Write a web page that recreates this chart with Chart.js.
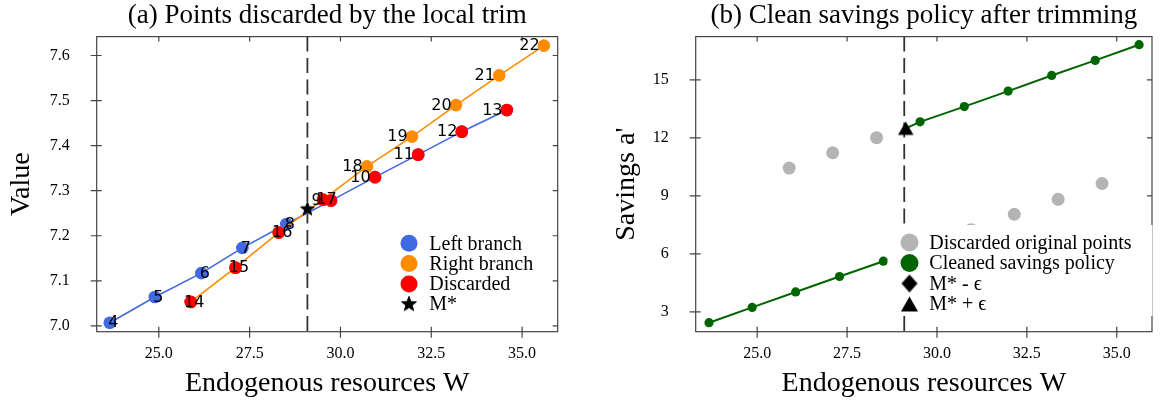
<!DOCTYPE html>
<html><head><meta charset="utf-8">
<script src="https://cdn.jsdelivr.net/npm/chart.js@4"></script>
<style>
html,body{margin:0;padding:0;background:#fff;}
#wrap{position:relative;width:1161px;height:410px;overflow:hidden;}
canvas{position:absolute;top:0;}
</style></head>
<body><div id="wrap">
<canvas id="c1" width="580" height="410" style="left:0"></canvas>
<canvas id="c2" width="581" height="410" style="left:580px"></canvas>
</div>
<script>
// ---------- data ----------
const xTicks = [25.0, 27.5, 30.0, 32.5, 35.0];
const yTicksA = [7.0, 7.1, 7.2, 7.3, 7.4, 7.5, 7.6];
const yTicksB = [3, 6, 9, 12, 15];

// panel (a)
const leftIdx = [4, 5, 6, 7, 8, 9, 10, 11, 12, 13];
const leftW   = [23.65, 24.89, 26.17, 27.30, 28.51, 29.74, 30.95, 32.14, 33.34, 34.58];
const leftV   = [7.007, 7.064, 7.117, 7.173, 7.226, 7.278, 7.330, 7.380, 7.431, 7.479];
const rightIdx = [14, 15, 16, 17, 18, 19, 20, 21, 22];
const rightW   = [25.88, 27.11, 28.30, 29.52, 30.73, 31.97, 33.18, 34.37, 35.60];
const rightV   = [7.053, 7.129, 7.207, 7.280, 7.354, 7.420, 7.490, 7.556, 7.622];
const discardedIdx = [9, 10, 11, 12, 13, 14, 15, 16, 17];
const mStarW = 29.09, mStarV = 7.259;

// panel (b)
const cleanLeftW  = [23.66, 24.86, 26.07, 27.29, 28.51];
const cleanLeftA  = [2.44, 3.23, 4.03, 4.83, 5.62];
const cleanRightW = [29.53, 30.76, 31.98, 33.19, 34.40, 35.62];
const cleanRightA = [12.83, 13.62, 14.42, 15.23, 16.01, 16.82];
const discOrigW = [25.89, 27.10, 28.32, 29.74, 30.95, 32.15, 33.37, 34.59];
const discOrigA = [10.44, 11.23, 12.01, 6.50, 7.25, 8.05, 8.82, 9.64];
const mMinusW = 29.05, mMinusA = 5.95;
const mPlusW = 29.13, mPlusA = 12.49;

const titleA = '(a) Points discarded by the local trim';
const titleB = '(b) Clean savings policy after trimming';
const xTitle = 'Endogenous resources W';
const yTitleA = 'Value';
const yTitleB = "Savings a'";

// ---------- styles ----------
const BLUE = '#4169e1', ORANGE = '#ff8c00', RED = '#ff0000', GREEN = '#006400', GRAY = '#b4b4b4';
const SERIF = '"Liberation Serif", "DejaVu Serif", serif';
const AXC = '#444';

function pts(xs, ys) { return xs.map((x, i) => ({x: x, y: ys[i]})); }

function starCanvas(R, color) {
  const s = Math.ceil(2 * R + 4), c = document.createElement('canvas');
  c.width = s; c.height = s;
  const g = c.getContext('2d');
  const cx = s / 2, cy = s / 2, r = R * 0.42;
  g.beginPath();
  for (let k = 0; k < 10; k++) {
    const ang = -Math.PI / 2 + k * Math.PI / 5, rr = k % 2 ? r : R;
    const px = cx + rr * Math.cos(ang), py = cy + rr * Math.sin(ang);
    k ? g.lineTo(px, py) : g.moveTo(px, py);
  }
  g.closePath(); g.fillStyle = color; g.fill();
  g.lineJoin = 'miter'; g.lineWidth = 1; g.strokeStyle = color; g.stroke();
  return c;
}
function triCanvas(w, h, color) {
  const c = document.createElement('canvas');
  c.width = Math.ceil(w) + 2; c.height = Math.ceil(h) + 2;
  const g = c.getContext('2d');
  g.beginPath(); g.moveTo(c.width / 2, 1); g.lineTo(c.width / 2 + w / 2, 1 + h); g.lineTo(c.width / 2 - w / 2, 1 + h);
  g.closePath(); g.fillStyle = color; g.fill();
  return c;
}
function diaCanvas(hw, hh, color) {
  const c = document.createElement('canvas');
  c.width = Math.ceil(2 * hw) + 2; c.height = Math.ceil(2 * hh) + 2;
  const g = c.getContext('2d'); const cx = c.width / 2, cy = c.height / 2;
  g.beginPath(); g.moveTo(cx, cy - hh); g.lineTo(cx + hw, cy); g.lineTo(cx, cy + hh); g.lineTo(cx - hw, cy);
  g.closePath(); g.fillStyle = color; g.fill();
  return c;
}
const STAR = starCanvas(7.2, '#000');
const STAR_L = starCanvas(7.8, '#000');
const TRI = triCanvas(15.5, 13.5, '#000');
const TRI_L = triCanvas(17, 15, '#000');
const DIA = diaCanvas(7, 9, '#000');
const DIA_L = diaCanvas(8, 9, '#000');

// ---------- plugins ----------
function framePlugin(xt, yt) {
  return {
    id: 'frame',
    beforeDatasetsDraw(chart, args, opts) {
      const a = chart.chartArea, x = chart.scales.x, ctx = chart.ctx;
      const px = x.getPixelForValue(opts.vline);
      ctx.save();
      ctx.strokeStyle = '#333'; ctx.lineWidth = 1.8; ctx.setLineDash([15, 6.5]);
      ctx.beginPath(); ctx.moveTo(px, a.top); ctx.lineTo(px, a.bottom); ctx.stroke();
      ctx.restore();
    },
    afterDatasetsDraw(chart, args, opts) {
      const a = chart.chartArea, ctx = chart.ctx, sx = chart.scales.x, sy = chart.scales.y;
      ctx.save();
      // panel title, centred over the plotting area
      ctx.font = '27px ' + SERIF; ctx.fillStyle = '#000'; ctx.textAlign = 'center'; ctx.textBaseline = 'middle';
      ctx.fillText(opts.title, (a.left + a.right) / 2, 16);
      ctx.strokeStyle = AXC; ctx.lineWidth = 1.2; ctx.setLineDash([]);
      ctx.strokeRect(a.left, a.top, a.right - a.left, a.bottom - a.top);
      ctx.beginPath();
      xt.forEach(v => {
        const p = sx.getPixelForValue(v);
        ctx.moveTo(p, a.bottom + 6); ctx.lineTo(p, a.bottom - 5);
        ctx.moveTo(p, a.top); ctx.lineTo(p, a.top + 5);
      });
      yt.forEach(v => {
        const p = sy.getPixelForValue(v);
        ctx.moveTo(a.left - 6, p); ctx.lineTo(a.left + 5, p);
        ctx.moveTo(a.right, p); ctx.lineTo(a.right - 5, p);
      });
      ctx.stroke();
      // point number labels
      if (opts.labels) {
        ctx.font = '16px "DejaVu Sans", sans-serif';
        ctx.fillStyle = '#000'; ctx.textBaseline = 'middle'; ctx.textAlign = 'center';
        opts.labels.forEach(l => {
          const p = sx.getPixelForValue(l.x), q = sy.getPixelForValue(l.y);
          const toRight = l.x < mStarW + 0.5;
          ctx.fillText(String(l.n), toRight ? p + 3.5 : p - 14.5, q + 0.5);
        });
      }
      // legend
      const L = opts.legend;
      if (L) {
        if (L.box) { ctx.fillStyle = '#fff'; ctx.fillRect(L.box[0], L.box[1], L.box[2], L.box[3]); }
        ctx.font = '20px ' + SERIF; ctx.textAlign = 'left'; ctx.textBaseline = 'middle';
        L.items.forEach((it, i) => {
          const yy = L.y + i * L.dy;
          if (it.img) {
            ctx.drawImage(it.img, L.mx - it.img.width / 2, yy - it.img.height / 2);
          } else {
            ctx.fillStyle = it.color; ctx.beginPath(); ctx.arc(L.mx, yy, it.r, 0, Math.PI * 2); ctx.fill();
          }
          ctx.fillStyle = '#000';
          ctx.fillText(it.text, L.tx, yy + 1);
        });
      }
      ctx.restore();
    }
  };
}

function scaleOpts(min, max, ticks, fmt, title, yAxis, fitSize, titlePad, tickPad) {
  return {
    type: 'linear', min: min, max: max,
    grid: {display: false, drawTicks: false},
    border: {display: false},
    afterBuildTicks: s => { s.ticks = ticks.map(v => ({value: v})); },
    afterFit: s => { if (yAxis) s.width = fitSize; else s.height = fitSize; },
    ticks: {color: '#000', font: {family: SERIF, size: 16}, padding: tickPad, callback: v => fmt(v)},
    title: {display: true, text: title, color: '#000', font: {family: SERIF, size: 28}, padding: titlePad}
  };
}

const common = {
  responsive: false, animation: false, events: [],
  plugins: {legend: {display: false}, tooltip: {enabled: false}, title: {display: false}}
};

// ---------- chart (a) ----------
const dataA = {
  datasets: [
    {label: 'M*', data: [{x: mStarW, y: mStarV}], pointStyle: STAR, pointRadius: 7, order: 0, showLine: false},
    {label: 'Discarded', data: discardedIdx.map(n => {
        const i = leftIdx.indexOf(n);
        return i >= 0 ? {x: leftW[i], y: leftV[i]} : {x: rightW[rightIdx.indexOf(n)], y: rightV[rightIdx.indexOf(n)]};
      }), backgroundColor: RED, borderWidth: 0, pointRadius: 6.4, order: 1, showLine: false},
    {label: 'Right branch', data: pts(rightW, rightV), borderColor: ORANGE, backgroundColor: ORANGE, borderWidth: 1.6,
      pointBorderWidth: 0, pointRadius: 6.3, showLine: true, order: 2},
    {label: 'Left branch', data: pts(leftW, leftV), borderColor: BLUE, backgroundColor: BLUE, borderWidth: 1.6,
      pointBorderWidth: 0, pointRadius: 6.3, showLine: true, order: 3}
  ]
};
const labelsA = leftIdx.map((n, i) => ({n: n, x: leftW[i], y: leftV[i]}))
  .concat(rightIdx.map((n, i) => ({n: n, x: rightW[i], y: rightV[i]})));

new Chart(document.getElementById('c1'), {
  type: 'scatter',
  data: dataA,
  options: Object.assign({}, common, {
    layout: {padding: {left: 0, right: 22.3, top: 33, bottom: 0}},
    scales: {
      x: scaleOpts(23.29, 35.98, xTicks, v => v.toFixed(1), xTitle, false, 78.3, {top: 0, bottom: 10}, 12),
      y: scaleOpts(6.987, 7.642, yTicksA, v => v.toFixed(1), yTitleA, true, 96.7, {top: 5, bottom: 0}, 27)
    },
    plugins: Object.assign({}, common.plugins, {
      frame: {
        title: titleA,
        vline: mStarW,
        labels: labelsA,
        legend: {mx: 409, tx: 429.3, y: 243.3, dy: 20.3, items: [
          {text: 'Left branch', color: BLUE, r: 8.5},
          {text: 'Right branch', color: ORANGE, r: 8.5},
          {text: 'Discarded', color: RED, r: 8.5},
          {text: 'M*', img: STAR_L}
        ]}
      }
    })
  }),
  plugins: [framePlugin(xTicks, yTicksA)]
});

// ---------- chart (b) ----------
const dataB = {
  datasets: [
    {label: 'M* + ϵ', data: [{x: mPlusW, y: mPlusA}], pointStyle: TRI, pointRadius: 8, order: 0, showLine: false},
    {label: 'M* - ϵ', data: [{x: mMinusW, y: mMinusA}], pointStyle: DIA, pointRadius: 8, order: 0, showLine: false},
    {label: 'Cleaned savings policy', data: pts(cleanRightW, cleanRightA).concat([{x: mPlusW, y: mPlusA}]).sort((a, b) => a.x - b.x),
      borderColor: GREEN, backgroundColor: GREEN, borderWidth: 2, pointBorderWidth: 0,
      pointRadius: c => (c.raw && c.raw.x === mPlusW) ? 0 : 4.6, showLine: true, order: 1},
    {label: 'Cleaned savings policy', data: pts(cleanLeftW, cleanLeftA).concat([{x: mMinusW, y: mMinusA}]),
      borderColor: GREEN, backgroundColor: GREEN, borderWidth: 2, pointBorderWidth: 0,
      pointRadius: c => (c.raw && c.raw.x === mMinusW) ? 0 : 4.6, showLine: true, order: 1},
    {label: 'Discarded original points', data: pts(discOrigW, discOrigA), backgroundColor: GRAY, borderWidth: 0,
      pointRadius: 6.5, showLine: false, order: 2}
  ]
};

new Chart(document.getElementById('c2'), {
  type: 'scatter',
  data: dataB,
  options: Object.assign({}, common, {
    layout: {padding: {left: 0, right: 4.3, top: 34, bottom: 0}},
    scales: {
      x: scaleOpts(23.29, 35.98, xTicks, v => v.toFixed(1), xTitle, false, 78.3, {top: 0, bottom: 10}, 12),
      y: scaleOpts(1.974, 17.24, yTicksB, v => String(v), yTitleB, true, 115.7, {top: 30, bottom: 0}, 27)
    },
    plugins: Object.assign({}, common.plugins, {
      frame: {
        title: titleB,
        vline: (mMinusW + mPlusW) / 2,
        legend: {box: [307.5, 225, 265, 91], mx: 329.5, tx: 349.3, y: 242.5, dy: 20.5, items: [
          {text: 'Discarded original points', color: GRAY, r: 9},
          {text: 'Cleaned savings policy', color: GREEN, r: 9},
          {text: 'M* - ϵ', img: DIA_L},
          {text: 'M* + ϵ', img: TRI_L}
        ]}
      }
    })
  }),
  plugins: [framePlugin(xTicks, yTicksB)]
});
</script>
</body></html>
